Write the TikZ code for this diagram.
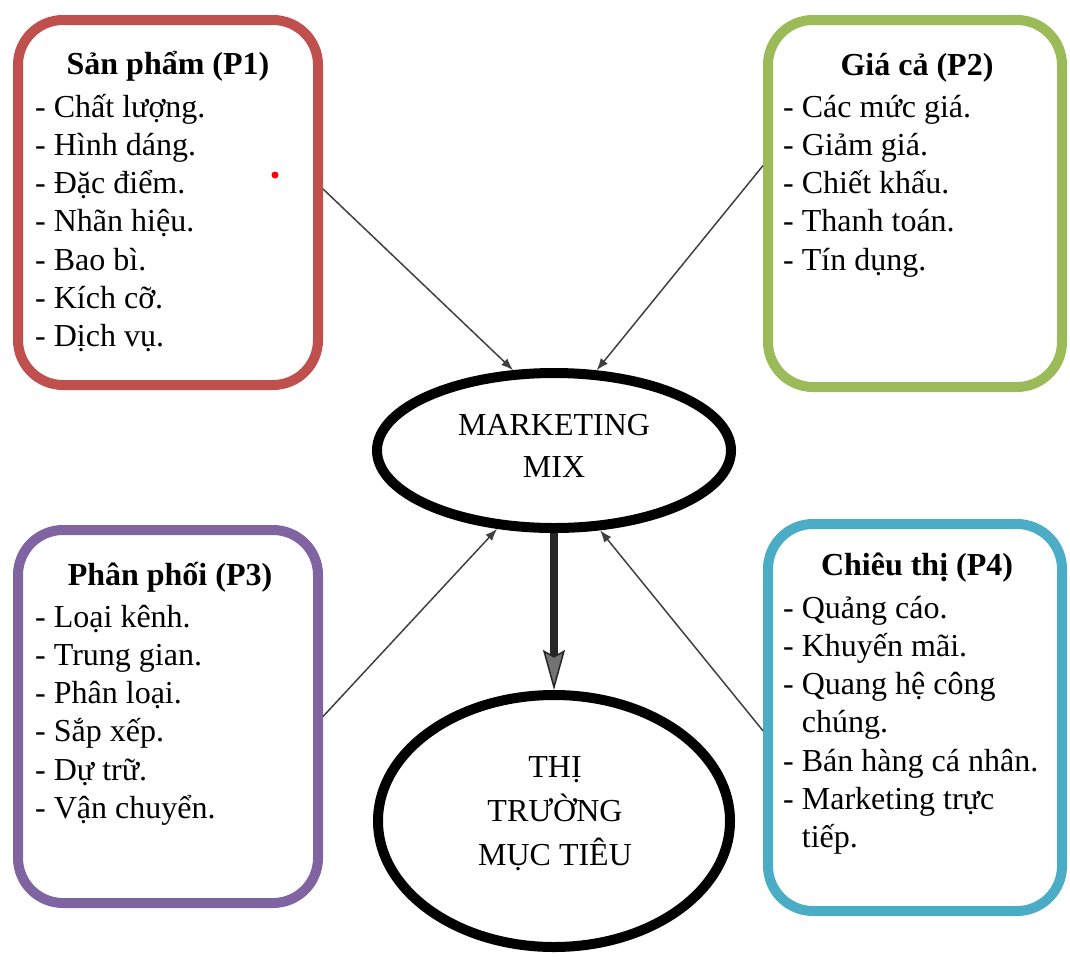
\documentclass[tikz,border=0pt]{standalone}
\usepackage{fontspec}
\setmainfont{Liberation Serif}
\usetikzlibrary{arrows.meta,shapes.geometric}
\definecolor{pred}{HTML}{C0504D}
\definecolor{pgreen}{HTML}{9BBB59}
\definecolor{ppurple}{HTML}{8064A2}
\definecolor{pblue}{HTML}{4BACC6}
\begin{document}
\begin{tikzpicture}[x=1pt,y=-1pt,
  box/.style={draw, rectangle, line width=10pt, rounded corners=45pt, inner sep=0pt, outer sep=5pt},
  oval/.style={draw, ellipse, line width=10pt, inner sep=0pt, outer sep=5pt},
  title/.style={anchor=base, inner sep=0pt, font=\fontsize{32}{38.3}\selectfont\bfseries},
  items/.style={anchor=base west, inner sep=0pt, font=\fontsize{32}{38.3}\selectfont},
  ovaltext/.style={anchor=base, inner sep=0pt},
  link/.style={draw=black!75, line width=1.5pt, -{Latex[length=12pt,width=9pt]}},
  mainlink/.style={draw=black!85, line width=8pt, -{Stealth[length=40pt,width=22pt,inset=6pt,fill=black!55,line width=1.5pt]}}]
\useasboundingbox (0,0) rectangle (1070,959);
% boxes
\node[box, draw=pred, minimum width=300pt, minimum height=365pt] (p1) at (168,202.5) {};
\node[box, draw=pgreen, minimum width=294pt, minimum height=367pt] (p2) at (915,203.5) {};
\node[box, draw=ppurple, minimum width=300pt, minimum height=373pt] (p3) at (168,716.5) {};
\node[box, draw=pblue, minimum width=294pt, minimum height=387pt] (p4) at (915,717.5) {};
% ellipses
\node[oval, minimum width=354pt, minimum height=155pt] (mm) at (554,450.5) {};
\node[oval, minimum width=352pt, minimum height=252pt] (tm) at (554,821) {};
% titles
\node[title] (t1) at (168,74) {Sản phẩm (P1)};
\node[title] (t2) at (917,75) {Giá cả (P2)};
\node[title] (t3) at (170,585) {Phân phối (P3)};
\node[title] (t4) at (917,575) {Chiêu thị (P4)};
% lists
\node[items] (l1) at (35,117) {\begin{tabular}[t]{@{}l@{}}- Chất lượng.\\- Hình dáng.\\- Đặc điểm.\\- Nhãn hiệu.\\- Bao bì.\\- Kích cỡ.\\- Dịch vụ.\end{tabular}};
\node[items] (l2) at (783,117) {\begin{tabular}[t]{@{}l@{}}- Các mức giá.\\- Giảm giá.\\- Chiết khấu.\\- Thanh toán.\\- Tín dụng.\end{tabular}};
\node[items] (l3) at (35,627) {\begin{tabular}[t]{@{}l@{}}- Loại kênh.\\- Trung gian.\\- Phân loại.\\- Sắp xếp.\\- Dự trữ.\\- Vận chuyển.\end{tabular}};
\node[items] (l4) at (783,618) {\begin{tabular}[t]{@{}l@{}}- Quảng cáo.\\- Khuyến mãi.\\- Quang hệ công\\\hphantom{- }chúng.\\- Bán hàng cá nhân.\\- Marketing trực\\\hphantom{- }tiếp.\end{tabular}};
% ellipse texts
\node[ovaltext, font=\fontsize{32}{42}\selectfont] (mmt) at (554,435) {\begin{tabular}[t]{@{}c@{}}MARKETING\\MIX\end{tabular}};
\node[ovaltext, font=\fontsize{32}{44}\selectfont] (tmt) at (555,777) {\begin{tabular}[t]{@{}c@{}}THỊ\\TRƯỜNG\\MỤC TIÊU\end{tabular}};
% red dot
\fill[red] (275,175) circle (3.5pt);
% connectors
\draw[link] (p1.5.5) -- (mm.117.4);
\draw[link] (p2.166.4) -- (mm.62);
\draw[link] (p3.0) -- (mm.234);
\draw[link] (p4.185.6) -- (mm.300);
\draw[mainlink] (mm.south) -- (tm.north);
\end{tikzpicture}
\end{document}
